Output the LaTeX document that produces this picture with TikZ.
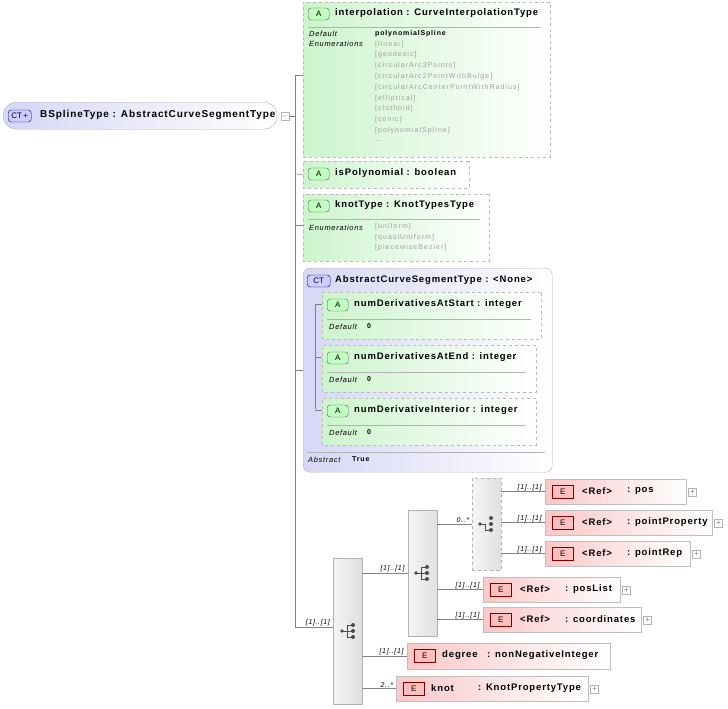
\documentclass[tikz,border=0pt]{standalone}
\usepackage{fontspec}
\setmainfont{Liberation Sans}
\newfontfamily\headfont[LetterSpace=9]{Liberation Sans}
\newfontfamily\enumfont[LetterSpace=15]{Liberation Sans}
\newfontfamily\keyfont[LetterSpace=9]{Liberation Sans}
\newfontfamily\valfont[LetterSpace=12]{Liberation Sans}
\usetikzlibrary{shapes.misc,positioning}
\definecolor{attrgreen}{RGB}{205,244,205}
\definecolor{ctblue}{RGB}{214,214,246}
\definecolor{elpink}{RGB}{250,200,200}
\definecolor{linegray}{RGB}{130,130,130}
\tikzset{
  attr/.style = {chamfered rectangle, chamfered rectangle corners={north west,south west},
    chamfered rectangle xsep=5pt, draw=gray!55, dashed, left color=attrgreen, right color=white,
    anchor=north west, inner sep=0pt},
  ctbox/.style = {rectangle, rounded corners=7pt, draw=gray!60, left color=ctblue, right color=white,
    anchor=north west, inner sep=0pt},
  elbox/.style = {rectangle, draw=gray!50, left color=elpink, right color=white,
    anchor=north west, inner sep=0pt},
  grpbox/.style = {rectangle, draw=gray!60, left color=gray!8, right color=gray!25,
    anchor=north west, inner sep=0pt},
  badgeA/.style = {draw=gray!70!black, fill=green!25, rounded corners=3pt, font=\fontsize{8}{8}\selectfont,
    minimum width=21pt, minimum height=12pt, inner sep=0pt, anchor=west},
  badgeE/.style = {draw=red!50!black, fill=red!25, font=\fontsize{8}{8}\selectfont,
    minimum width=21pt, minimum height=13pt, inner sep=0pt, anchor=west},
  badgeCT/.style = {draw=blue!40!black, fill=blue!20, rounded corners=3pt, font=\fontsize{8}{8}\selectfont,
    minimum width=23pt, minimum height=12pt, inner sep=0pt, anchor=west},
  head/.style = {font=\headfont\bfseries\fontsize{9.5}{9.5}\selectfont, anchor=west, inner sep=0pt},
  key/.style = {font=\keyfont\itshape\fontsize{7.5}{7.5}\selectfont, anchor=west, inner sep=0pt},
  val/.style = {font=\valfont\bfseries\fontsize{7}{7}\selectfont, anchor=west, inner sep=0pt},
  enum/.style = {font=\enumfont\fontsize{7}{7}\selectfont, text=gray!75, anchor=west, inner sep=0pt},
  mult/.style = {font=\keyfont\itshape\fontsize{7}{7}\selectfont, anchor=south east, inner sep=1pt},
  conn/.style = {draw=linegray, line width=0.5pt},
  plusbox/.style = {draw=gray!60, minimum size=8pt, inner sep=0pt, font=\fontsize{8}{8}\selectfont, text=gray},
}
% sequence icon
\newcommand{\seqicon}[2]{%
  \begin{scope}[shift={(#1,#2)}]
    \fill[black!70] (-6,0) circle (1.8pt);
    \draw[black!70, line width=0.8pt] (-6,0) -- (-1,0) (-1,-6) -- (-1,6) (-1,-6) -- (4,-6) (-1,0) -- (4,0) (-1,6) -- (4,6);
    \fill[black!70] (5,-6) circle (2pt) (5,0) circle (2pt) (5,6) circle (2pt);
  \end{scope}}
\newcommand{\choiceicon}[2]{%
  \begin{scope}[shift={(#1,#2)}]
    \fill[black!70] (-7,0) circle (1.8pt);
    \draw[black!70, line width=0.8pt] (-7,0) -- (-2,0) (-2,0) -- (-2,6) -- (2,6);
    \fill[black!70] (4,-6) circle (2pt) (4,0) circle (2pt) (4,6) circle (2pt);
  \end{scope}}
% element box: name, x, y, width, ref text, type text, type x
\newcommand{\elnode}[7]{%
  \node[elbox, minimum width=#4pt, minimum height=25pt] (#1) at (#2,#3) {};
  \node[badgeE] (#1b) at (#2+7,#3+13) {E};
  \node[head] (#1n) at (#2+37,#3+12) {#5};
  \node[head] (#1t) at (#2+#7,#3+12) {: #6};
  \node[plusbox] (#1p) at ([xshift=6pt]#1.east) {+};}
\begin{document}
\begin{tikzpicture}[x=1pt,y=-1pt]
\useasboundingbox (0,0) rectangle (728,709);

% root type
\node[ctbox, rounded corners=13pt, minimum width=274pt, minimum height=27pt] (root) at (3,102) {};
\node[badgeCT] (rootb) at (8,116) {CT\,+};
\node[head, font=\headfont\bfseries\fontsize{10}{10}\selectfont] (rootn) at (40,115) {BSplineType : AbstractCurveSegmentType};
\node[plusbox] (rootm) at (285,116) {$-$};

% trunk
\coordinate (trtop) at (295,75);
\coordinate (trbot) at (295,627);
\draw[conn] (rootm.east) -- (295,116);
\draw[conn] (trtop) -- (trbot);

% interpolation
\node[attr, minimum width=247pt, minimum height=155pt] (interp) at (303,2) {};
\node[badgeA] (interpb) at (308,14) {A};
\node[head] (interpn) at (335,13) {interpolation : CurveInterpolationType};
\draw[gray!60] (308,27) -- (540,27);
\node[key] (interpk1) at (309,34) {Default};
\node[key] (interpk2) at (309,44) {Enumerations};
\node[val] (interpv) at (375,34) {polynomialSpline};
\foreach \e [count=\i] in {{[linear]},{[geodesic]},{[circularArc3Points]},{[circularArc2PointWithBulge]},
  {[circularArcCenterPointWithRadius]},{[elliptical]},{[clothoid]},{[conic]},{[polynomialSpline]},{\ldots}}
  \node[enum] (interpe\i) at (375,33.5+10.8*\i) {\e};
\draw[conn] (trtop) -- (303,75);

% isPolynomial
\node[attr, minimum width=166pt, minimum height=27pt] (ispoly) at (303,161) {};
\node[badgeA] (ispolyb) at (308,174) {A};
\node[head] (ispolyn) at (335,173) {isPolynomial : boolean};
\draw[conn] (295,174) -- (ispoly.west);

% knotType
\node[attr, minimum width=186pt, minimum height=67pt] (ktype) at (303,194) {};
\node[badgeA] (ktypeb) at (308,206) {A};
\node[head] (ktypen) at (335,205) {knotType : KnotTypesType};
\draw[gray!60] (308,219) -- (480,219);
\node[key] (ktypek) at (309,228) {Enumerations};
\foreach \e [count=\i] in {{[uniform]},{[quasiUniform]},{[piecewiseBezier]}}
  \node[enum] (ktypee\i) at (375,216.5+10.5*\i) {\e};
\draw[conn] (295,225) -- (303,225);

% abstract base type
\node[ctbox, minimum width=249pt, minimum height=204pt] (abst) at (303,268) {};
\node[badgeCT] (abstb) at (307,281) {CT};
\node[head] (abstn) at (335,280) {AbstractCurveSegmentType : <None>};
\draw[conn] (295,370) -- (303,370);
\draw[conn] (315,304) -- (315,409);
\foreach \nm/\y/\w/\lbl in {dstart/292/219/numDerivativesAtStart : integer,dend/345/214/numDerivativesAtEnd : integer,dint/398/214/numDerivativeInterior : integer}{
  \node[attr, minimum width=\w pt, minimum height=47pt] (\nm) at (322,\y) {};
  \node[badgeA] (\nm b) at (327,\y+13) {A};
  \node[head] (\nm n) at (354,\y+12) {\lbl};
  \draw[gray!60] (327,\y+27) -- (312+\w,\y+27);
  \node[key] (\nm k) at (329,\y+35) {Default};
  \node[val] (\nm v) at (367,\y+34) {0};
  \draw[conn] (315,\y+12) -- (322,\y+12);
}
\draw[gray!60] (307,452) -- (545,452);
\node[key] (abstk) at (308,460) {Abstract};
\node[val] (abstv) at (352,459.5) {True};

% outer sequence
\node[grpbox, minimum width=29pt, minimum height=146pt] (seqa) at (333,558) {};
\seqicon{348}{631}
\draw[conn] (trbot) -- (333,627) node[mult, pos=0.95] {[1]..[1]};

% inner sequence
\node[grpbox, minimum width=29pt, minimum height=126pt] (seqb) at (408,510) {};
\seqicon{422}{573}
\draw[conn] (362,573) -- (408,573) node[mult, pos=0.95] {[1]..[1]};

% choice
\node[grpbox, dashed, minimum width=29pt, minimum height=92pt] (choice) at (472,478) {};
\choiceicon{487}{524}
\draw[conn] (437,524) -- (472,524) node[mult, pos=0.95] {0..*};

% elements
\elnode{pos}{545}{479}{141}{<Ref>}{pos}{82}
\elnode{pprop}{545}{510}{167}{<Ref>}{pointProperty}{82}
\elnode{prep}{545}{541}{145}{<Ref>}{pointRep}{82}
\elnode{plist}{483}{577}{137}{<Ref>}{posList}{82}
\elnode{coord}{483}{607}{158}{<Ref>}{coordinates}{82}
\node[elbox, minimum width=203pt, minimum height=26pt] (degree) at (407,643) {};
\node[badgeE] (degreeb) at (414,656) {E};
\node[head] (degreen) at (442,655) {degree};
\node[head] (degreet) at (487,655) {: nonNegativeInteger};
\node[elbox, minimum width=192pt, minimum height=25pt] (knot) at (396,676) {};
\node[badgeE] (knotb) at (403,689) {E};
\node[head] (knotn) at (431,688) {knot};
\node[head] (knott) at (478,688) {: KnotPropertyType};
\node[plusbox] (knotp) at ([xshift=6pt]knot.east) {+};

\draw[conn] (choice.east |- pos.west) -- (pos.west) node[mult, pos=0.95] {[1]..[1]};
\draw[conn] (choice.east |- pprop.west) -- (pprop.west) node[mult, pos=0.95] {[1]..[1]};
\draw[conn] (choice.east |- prep.west) -- (prep.west) node[mult, pos=0.95] {[1]..[1]};
\draw[conn] (seqb.east |- plist.west) -- (plist.west) node[mult, pos=0.95] {[1]..[1]};
\draw[conn] (seqb.east |- coord.west) -- (coord.west) node[mult, pos=0.95] {[1]..[1]};
\draw[conn] (seqa.east |- degree.west) -- (degree.west) node[mult, pos=0.95] {[1]..[1]};
\draw[conn] (seqa.east |- knot.west) -- (knot.west) node[mult, pos=0.95] {2..*};
\end{tikzpicture}
\end{document}
